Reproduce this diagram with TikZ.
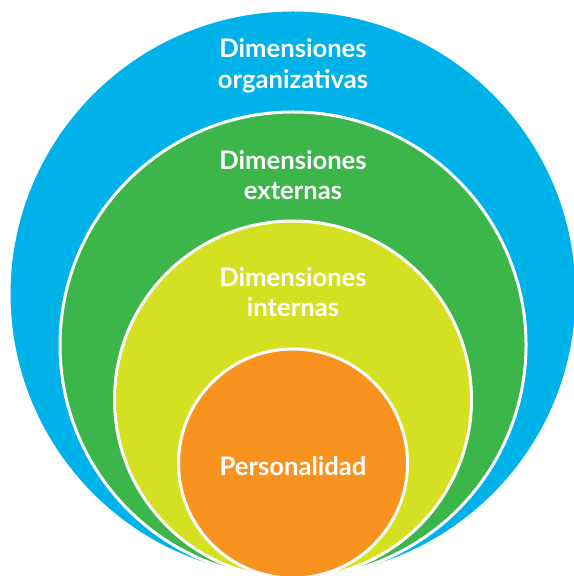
\documentclass[tikz,border=0pt]{standalone}
\usepackage{fontspec}
\setmainfont{Lato}
\usetikzlibrary{positioning}
\definecolor{ringblue}{RGB}{0,178,234}
\definecolor{ringgreen}{RGB}{60,181,74}
\definecolor{ringyellow}{RGB}{214,224,35}
\definecolor{ringorange}{RGB}{247,147,30}

\begin{document}
\begin{tikzpicture}[
x=0.5pt, y=-0.5pt,
ring/.style={
circle,
draw=white,
line width=1.5pt,
inner sep=0pt
},
label text/.style={
text=white,
align=center,
font=\fontsize{12.8}{15.2}\selectfont\bfseries
}
]

\useasboundingbox (0,0) rectangle (573,576);

\node[ring, fill=ringblue, minimum size=284pt] (outer) at (293,294) {};
\node[ring, fill=ringgreen, minimum size=233pt] (external) at (293,345) {};
\node[ring, fill=ringyellow, minimum size=178.5pt] (internal) at (293,399.5) {};
\node[ring, fill=ringorange, minimum size=114.5pt] (core) at (293,463.5) {};

\node[label text] (orglabel) at (293,66) {Dimensiones\\organizativas};
\node[label text] (extlabel) at (293,175) {Dimensiones\\externas};
\node[label text] (intlabel) at (293,292) {Dimensiones\\internas};
\node[label text] (corelabel) at (293,466) {Personalidad};

\end{tikzpicture}
\end{document}
